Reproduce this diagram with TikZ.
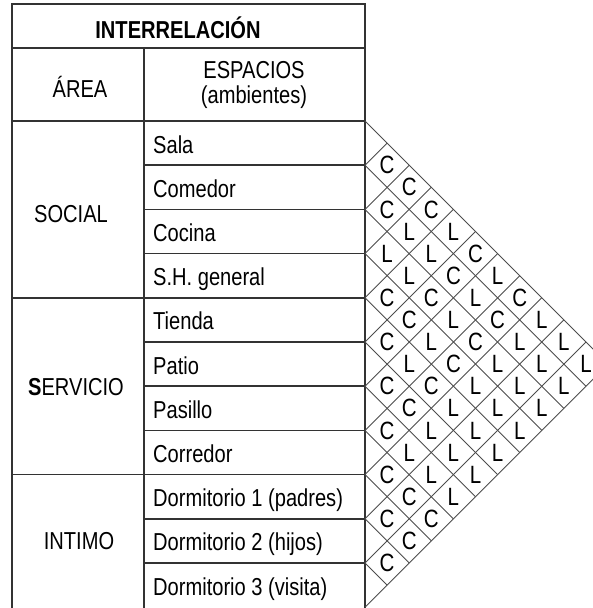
\documentclass[tikz,border=0pt]{standalone}
\usepackage{fontspec}
\setmainfont{Liberation Sans}[FakeStretch=0.82]
\usetikzlibrary{calc}

\begin{document}
\begin{tikzpicture}[x=1pt, y=-1pt,
  rule/.style={draw=black!80, line width=1.6pt},
  diag/.style={draw=black!70, line width=0.9pt},
  txt/.style={font=\fontsize{24.5}{28}\selectfont, inner sep=0pt, anchor=base},
  room/.style={txt, anchor=base west},
  letter/.style={font=\fontsize{25}{28}\selectfont, inner sep=0pt},
]
  \useasboundingbox (0,0) rectangle (593,608);
  \def\h{44.2}

  % table frame
  \draw[rule] (12,4) rectangle (365,625);
  \draw[rule] (12,48) -- (365,48);
  \draw[rule] (12,121) -- (365,121);
  \draw[rule] (144,48) -- (144,625);
  \foreach \i in {1,...,10}
    \draw[rule] (144,{121+\i*\h}) -- (365,{121+\i*\h});
  \foreach \i in {4,8}
    \draw[rule] (12,{121+\i*\h}) -- (144,{121+\i*\h});

  % headers
  \node[txt, font=\fontsize{24.5}{28}\selectfont\bfseries] (title) at (178,38) {INTERRELACIÓN};
  \node[txt] (area) at (80,97) {ÁREA};
  \node[txt] (esp) at (254,78) {ESPACIOS};
  \node[txt] (amb) at (254,103) {(ambientes)};

  % areas
  \node[txt] (social) at (71,222) {SOCIAL};
  \node[txt] (servicio) at (76,395) {{\bfseries S}ERVICIO};
  \node[txt] (intimo) at (79,549) {INTIMO};

  % rooms
  \foreach \name [count=\i] in {Sala, Comedor, Cocina, S.H. general, Tienda, Patio,
      Pasillo, Corredor, Dormitorio 1 (padres), Dormitorio 2 (hijos), Dormitorio 3 (visita)}
    \node[room] (r\i) at (153,{121+(\i-0.5)*\h+10}) {\name};

  % interrelation grid
  \foreach \i in {0,...,11} {
    \draw[diag] (365,{121+\i*\h}) -- ++({(11-\i)*\h/2},{(11-\i)*\h/2});
    \draw[diag] (365,{121+\i*\h}) -- ++({\i*\h/2},{-\i*\h/2});
  }

  % C = conexion, L = lejania
  \foreach \row [count=\i] in {
      {C,C,C,L,C,L,C,L,L,L},
      {C,L,L,C,L,C,L,L,L},
      {L,L,C,L,C,L,L,L},
      {C,C,L,C,L,L,L},
      {C,L,C,L,L,L},
      {C,C,L,L,L},
      {C,L,L,L},
      {C,C,C},
      {C,C},
      {C}}
    \foreach \v [count=\k] in \row
      \node[letter] (m\i-\k) at ({365+\k*\h/2},{121+(2*\i+\k-1)*\h/2}) {\v};
\end{tikzpicture}
\end{document}
